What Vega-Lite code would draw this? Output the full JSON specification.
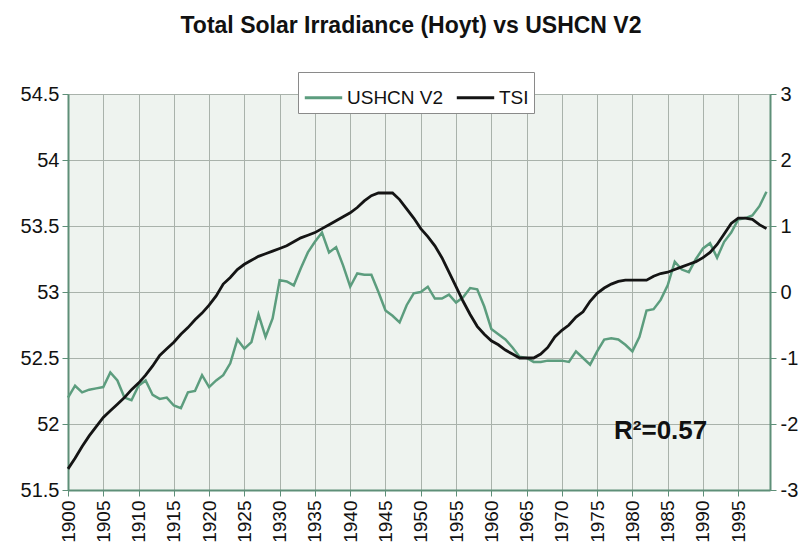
{
  "$schema": "https://vega.github.io/schema/vega-lite/v6.json",
  "width": 702,
  "height": 396,
  "autosize": {"type": "none"},
  "padding": {"left": 68, "top": 94, "right": 38, "bottom": 65},
  "background": "white",
  "title": {
    "text": "Total Solar Irradiance (Hoyt) vs USHCN V2",
    "font": "Liberation Sans",
    "fontSize": 23,
    "fontWeight": "bold",
    "color": "#111111",
    "anchor": "middle",
    "offset": 34,
    "dx": -8
  },
  "config": {
    "font": "Liberation Sans",
    "view": {"fill": "#eef3ef", "stroke": "#9aa59c", "strokeWidth": 1},
    "axisX": {
      "title": null,
      "values": [1900,1905,1910,1915,1920,1925,1930,1935,1940,1945,1950,1955,1960,1965,1970,1975,1980,1985,1990,1995],
      "format": "d",
      "labelAngle": -90,
      "labelAlign": "right",
      "labelBaseline": "middle",
      "labelFontSize": 19,
      "labelColor": "#111111",
      "labelPadding": 4,
      "domainColor": "#5e8f78",
      "domainWidth": 2,
      "tickColor": "#5e8f78",
      "tickSize": 6,
      "grid": true,
      "gridColor": "#a9b2ab",
      "gridWidth": 1
    }
  },
  "datasets": {
    "series": [
    {"year":1900,"ushcn":52.20,"tsi":-2.68},{"year":1901,"ushcn":52.29,"tsi":-2.52},{"year":1902,"ushcn":52.24,"tsi":-2.34},{"year":1903,"ushcn":52.26,"tsi":-2.18},{"year":1904,"ushcn":52.27,"tsi":-2.04},
    {"year":1905,"ushcn":52.28,"tsi":-1.90},{"year":1906,"ushcn":52.39,"tsi":-1.80},{"year":1907,"ushcn":52.33,"tsi":-1.70},{"year":1908,"ushcn":52.20,"tsi":-1.60},{"year":1909,"ushcn":52.18,"tsi":-1.48},
    {"year":1910,"ushcn":52.29,"tsi":-1.38},{"year":1911,"ushcn":52.33,"tsi":-1.26},{"year":1912,"ushcn":52.22,"tsi":-1.12},{"year":1913,"ushcn":52.19,"tsi":-0.96},{"year":1914,"ushcn":52.20,"tsi":-0.86},
    {"year":1915,"ushcn":52.14,"tsi":-0.76},{"year":1916,"ushcn":52.12,"tsi":-0.64},{"year":1917,"ushcn":52.24,"tsi":-0.54},{"year":1918,"ushcn":52.25,"tsi":-0.42},{"year":1919,"ushcn":52.37,"tsi":-0.32},
    {"year":1920,"ushcn":52.28,"tsi":-0.20},{"year":1921,"ushcn":52.33,"tsi":-0.06},{"year":1922,"ushcn":52.37,"tsi":0.12},{"year":1923,"ushcn":52.46,"tsi":0.22},{"year":1924,"ushcn":52.64,"tsi":0.34},
    {"year":1925,"ushcn":52.57,"tsi":0.42},{"year":1926,"ushcn":52.62,"tsi":0.48},{"year":1927,"ushcn":52.83,"tsi":0.54},{"year":1928,"ushcn":52.66,"tsi":0.58},{"year":1929,"ushcn":52.80,"tsi":0.62},
    {"year":1930,"ushcn":53.09,"tsi":0.66},{"year":1931,"ushcn":53.08,"tsi":0.70},{"year":1932,"ushcn":53.05,"tsi":0.76},{"year":1933,"ushcn":53.18,"tsi":0.82},{"year":1934,"ushcn":53.30,"tsi":0.86},
    {"year":1935,"ushcn":53.38,"tsi":0.90},{"year":1936,"ushcn":53.45,"tsi":0.96},{"year":1937,"ushcn":53.30,"tsi":1.02},{"year":1938,"ushcn":53.34,"tsi":1.08},{"year":1939,"ushcn":53.20,"tsi":1.14},
    {"year":1940,"ushcn":53.04,"tsi":1.20},{"year":1941,"ushcn":53.14,"tsi":1.28},{"year":1942,"ushcn":53.13,"tsi":1.38},{"year":1943,"ushcn":53.13,"tsi":1.46},{"year":1944,"ushcn":53.00,"tsi":1.50},
    {"year":1945,"ushcn":52.86,"tsi":1.50},{"year":1946,"ushcn":52.82,"tsi":1.50},{"year":1947,"ushcn":52.77,"tsi":1.40},{"year":1948,"ushcn":52.90,"tsi":1.26},{"year":1949,"ushcn":52.99,"tsi":1.12},
    {"year":1950,"ushcn":53.00,"tsi":0.96},{"year":1951,"ushcn":53.04,"tsi":0.84},{"year":1952,"ushcn":52.95,"tsi":0.70},{"year":1953,"ushcn":52.95,"tsi":0.52},{"year":1954,"ushcn":52.98,"tsi":0.30},
    {"year":1955,"ushcn":52.92,"tsi":0.08},{"year":1956,"ushcn":52.96,"tsi":-0.14},{"year":1957,"ushcn":53.03,"tsi":-0.34},{"year":1958,"ushcn":53.02,"tsi":-0.52},{"year":1959,"ushcn":52.89,"tsi":-0.64},
    {"year":1960,"ushcn":52.72,"tsi":-0.74},{"year":1961,"ushcn":52.68,"tsi":-0.80},{"year":1962,"ushcn":52.64,"tsi":-0.88},{"year":1963,"ushcn":52.58,"tsi":-0.94},{"year":1964,"ushcn":52.51,"tsi":-1.00},
    {"year":1965,"ushcn":52.50,"tsi":-1.00},{"year":1966,"ushcn":52.47,"tsi":-1.00},{"year":1967,"ushcn":52.47,"tsi":-0.94},{"year":1968,"ushcn":52.48,"tsi":-0.84},{"year":1969,"ushcn":52.48,"tsi":-0.68},
    {"year":1970,"ushcn":52.48,"tsi":-0.58},{"year":1971,"ushcn":52.47,"tsi":-0.50},{"year":1972,"ushcn":52.55,"tsi":-0.38},{"year":1973,"ushcn":52.50,"tsi":-0.30},{"year":1974,"ushcn":52.45,"tsi":-0.14},
    {"year":1975,"ushcn":52.55,"tsi":-0.02},{"year":1976,"ushcn":52.64,"tsi":0.06},{"year":1977,"ushcn":52.65,"tsi":0.12},{"year":1978,"ushcn":52.64,"tsi":0.16},{"year":1979,"ushcn":52.60,"tsi":0.18},
    {"year":1980,"ushcn":52.55,"tsi":0.18},{"year":1981,"ushcn":52.66,"tsi":0.18},{"year":1982,"ushcn":52.86,"tsi":0.18},{"year":1983,"ushcn":52.87,"tsi":0.24},{"year":1984,"ushcn":52.94,"tsi":0.28},
    {"year":1985,"ushcn":53.05,"tsi":0.30},{"year":1986,"ushcn":53.23,"tsi":0.34},{"year":1987,"ushcn":53.17,"tsi":0.38},{"year":1988,"ushcn":53.15,"tsi":0.42},{"year":1989,"ushcn":53.25,"tsi":0.46},
    {"year":1990,"ushcn":53.33,"tsi":0.52},{"year":1991,"ushcn":53.37,"tsi":0.60},{"year":1992,"ushcn":53.26,"tsi":0.72},{"year":1993,"ushcn":53.38,"tsi":0.88},{"year":1994,"ushcn":53.45,"tsi":1.04},
    {"year":1995,"ushcn":53.55,"tsi":1.12},{"year":1996,"ushcn":53.56,"tsi":1.12},{"year":1997,"ushcn":53.58,"tsi":1.10},{"year":1998,"ushcn":53.65,"tsi":1.02},{"year":1999,"ushcn":53.76,"tsi":0.96}
    ],
    "note": [{"label": "R²=0.57"}]
  },
  "layer": [
    {
      "data": {"name": "series"},
      "mark": {"type": "line", "strokeWidth": 2.5},
      "encoding": {
        "x": {
          "field": "year", "type": "quantitative", "title": null,
          "scale": {"domain": [1900, 1999.5], "nice": false, "zero": false}
        },
        "y": {
          "field": "ushcn", "type": "quantitative",
          "scale": {"domain": [51.5, 54.5], "nice": false, "zero": false},
          "axis": {
            "title": null,
            "orient": "left",
            "values": [51.5,52,52.5,53,53.5,54,54.5],
            "format": "~f",
            "labelFontSize": 20,
            "labelColor": "#111111",
            "labelPadding": 3,
            "domainColor": "#5e8f78",
            "domainWidth": 2,
            "tickColor": "#5e8f78",
            "tickSize": 6,
            "grid": true,
            "gridColor": "#a9b2ab",
            "gridWidth": 1
          }
        },
        "color": {
          "datum": "USHCN V2", "type": "nominal",
          "scale": {"domain": ["USHCN V2", "TSI"], "range": ["#5c9d7e", "#141414"]},
          "legend": {
            "title": null,
            "orient": "none",
            "legendX": 230,
            "legendY": -22,
            "direction": "horizontal",
            "symbolType": "stroke",
            "symbolSize": 1400,
            "symbolStrokeWidth": 3,
            "labelFontSize": 19,
            "labelColor": "#111111",
            "labelOffset": 3,
            "columnPadding": 6,
            "padding": 5,
            "fillColor": "white",
            "strokeColor": "#8a8a8a"
          }
        }
      }
    },
    {
      "data": {"name": "series"},
      "mark": {"type": "line", "strokeWidth": 2.8},
      "encoding": {
        "x": {"field": "year", "type": "quantitative", "title": null},
        "y": {
          "field": "tsi", "type": "quantitative",
          "scale": {"domain": [-3, 3], "nice": false, "zero": false},
          "axis": {
            "title": null,
            "orient": "right",
            "values": [-3,-2,-1,0,1,2,3],
            "labelExpr": "'' + datum.value",
            "labelFontSize": 20,
            "labelColor": "#111111",
            "labelPadding": 4,
            "domainColor": "#5e8f78",
            "domainWidth": 2,
            "tickColor": "#5e8f78",
            "tickSize": 6,
            "grid": false
          }
        },
        "color": {"datum": "TSI", "type": "nominal"}
      }
    },
    {
      "data": {"name": "note"},
      "mark": {"type": "text", "fontSize": 26, "fontWeight": "bold", "fill": "#111111", "align": "center", "baseline": "middle"},
      "encoding": {
        "text": {"field": "label", "type": "nominal"},
        "x": {"datum": 1984, "type": "quantitative", "title": null},
        "y": {"datum": 51.95, "type": "quantitative", "scale": {"domain": [51.5, 54.5], "nice": false, "zero": false}, "axis": null}
      }
    }
  ],
  "resolve": {"scale": {"y": "independent"}}
}
